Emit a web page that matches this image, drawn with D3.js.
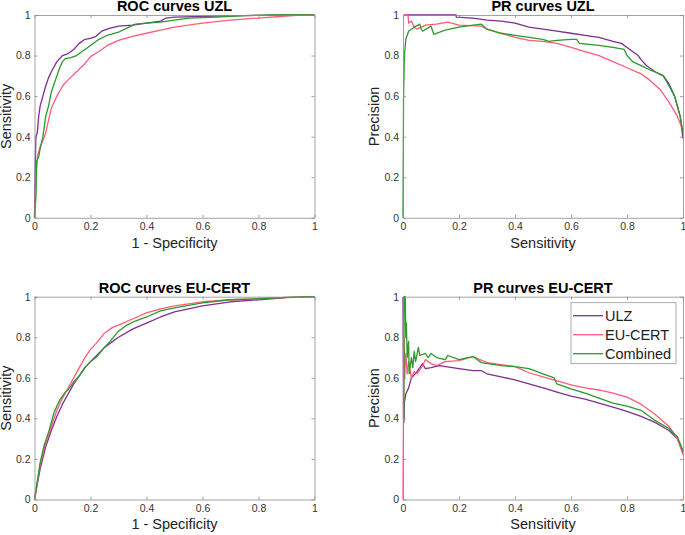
<!DOCTYPE html>
<html>
<head>
<meta charset="utf-8">
<script src="https://cdn.jsdelivr.net/npm/d3@7"></script>
<style>
  html, body { margin: 0; padding: 0; background: #fff; overflow: hidden; }
  svg { display: block; }
  text { font-family: "Liberation Sans", Arial, Helvetica, sans-serif; }
</style>
</head>
<body>
<svg width="685" height="535"></svg>
<script>
// series names + colours
const seriesNames = ['ULZ', 'EU-CERT', 'Combined'];
const colors = ['#7E2F8E', '#FF5C77', '#2A9A2A'];
const tickValues = [0, 0.2, 0.4, 0.6, 0.8, 1];

// ROC curves UZL  ([1-specificity, sensitivity])
const rocUzlUlz = [[0,0],[0.003,0.28],[0.005,0.4],[0.01,0.42],[0.015,0.5],[0.02,0.55],[0.03,0.6],[0.04,0.65],[0.05,0.69],[0.06,0.72],[0.08,0.77],[0.1,0.8],[0.12,0.81],[0.14,0.83],[0.16,0.86],[0.18,0.88],[0.2,0.885],[0.22,0.895],[0.24,0.92],[0.27,0.935],[0.3,0.945],[0.35,0.95],[0.4,0.96],[0.45,0.97],[0.47,0.985],[0.5,0.99],[0.6,0.993],[0.7,0.996],[0.8,0.998],[0.9,1],[1,1]];
const rocUzlEu = [[0,0],[0.005,0.2],[0.01,0.3],[0.02,0.35],[0.03,0.38],[0.04,0.42],[0.05,0.48],[0.06,0.54],[0.08,0.6],[0.1,0.65],[0.12,0.68],[0.15,0.72],[0.18,0.76],[0.2,0.795],[0.23,0.82],[0.26,0.85],[0.3,0.875],[0.35,0.895],[0.4,0.91],[0.45,0.925],[0.5,0.94],[0.6,0.96],[0.7,0.975],[0.8,0.985],[0.9,0.995],[0.95,1],[1,1]];
const rocUzlComb = [[0,0],[0.005,0.1],[0.008,0.28],[0.015,0.3],[0.02,0.34],[0.03,0.4],[0.04,0.5],[0.05,0.55],[0.06,0.62],[0.07,0.66],[0.08,0.7],[0.09,0.74],[0.1,0.77],[0.11,0.785],[0.13,0.79],[0.15,0.8],[0.17,0.82],[0.2,0.85],[0.23,0.88],[0.26,0.9],[0.3,0.915],[0.33,0.935],[0.36,0.955],[0.4,0.96],[0.45,0.965],[0.5,0.975],[0.55,0.985],[0.65,0.99],[0.75,0.997],[0.85,1],[1,1]];

// PR curves UZL  ([sensitivity, precision])
const prUzlUlz = [[0.003,1],[0.19,1],[0.19,0.99],[0.25,0.985],[0.3,0.975],[0.35,0.97],[0.4,0.96],[0.45,0.94],[0.5,0.93],[0.55,0.92],[0.6,0.91],[0.65,0.9],[0.7,0.89],[0.75,0.87],[0.78,0.86],[0.8,0.84],[0.82,0.82],[0.84,0.8],[0.85,0.78],[0.87,0.75],[0.9,0.72],[0.93,0.7],[0.95,0.66],[0.97,0.6],[0.98,0.55],[0.99,0.5],[1,0.39]];
const prUzlEu = [[0.005,1],[0.018,1],[0.02,0.96],[0.03,0.97],[0.04,0.94],[0.05,0.93],[0.08,0.95],[0.12,0.955],[0.16,0.965],[0.2,0.95],[0.28,0.945],[0.3,0.93],[0.35,0.91],[0.4,0.89],[0.45,0.875],[0.5,0.87],[0.55,0.86],[0.6,0.84],[0.65,0.82],[0.7,0.8],[0.75,0.77],[0.8,0.74],[0.85,0.71],[0.88,0.68],[0.92,0.63],[0.95,0.57],[0.98,0.5],[1,0.43]];
const prUzlComb = [[0,0],[0.002,0.6],[0.005,0.8],[0.01,0.88],[0.02,0.92],[0.04,0.94],[0.06,0.955],[0.065,0.93],[0.07,0.92],[0.1,0.945],[0.11,0.905],[0.15,0.925],[0.2,0.94],[0.25,0.95],[0.28,0.955],[0.3,0.93],[0.35,0.91],[0.4,0.9],[0.45,0.89],[0.5,0.88],[0.52,0.87],[0.55,0.875],[0.6,0.88],[0.62,0.88],[0.63,0.86],[0.7,0.85],[0.75,0.84],[0.79,0.83],[0.8,0.8],[0.82,0.77],[0.85,0.75],[0.88,0.73],[0.9,0.72],[0.93,0.7],[0.95,0.65],[0.97,0.6],[0.98,0.55],[0.99,0.5],[1,0.42]];

// ROC curves EU-CERT
const rocEuUlz = [[0,0],[0.02,0.15],[0.04,0.26],[0.06,0.34],[0.08,0.41],[0.1,0.47],[0.12,0.52],[0.14,0.57],[0.16,0.61],[0.18,0.65],[0.2,0.68],[0.25,0.75],[0.3,0.8],[0.35,0.84],[0.4,0.87],[0.45,0.9],[0.5,0.925],[0.6,0.955],[0.7,0.975],[0.8,0.985],[0.9,0.995],[1,1]];
const rocEuEu = [[0,0],[0.02,0.17],[0.04,0.28],[0.06,0.36],[0.08,0.44],[0.1,0.5],[0.12,0.55],[0.14,0.6],[0.16,0.65],[0.18,0.7],[0.2,0.74],[0.22,0.77],[0.25,0.82],[0.28,0.85],[0.3,0.86],[0.35,0.89],[0.4,0.92],[0.45,0.94],[0.5,0.955],[0.6,0.975],[0.7,0.985],[0.8,0.99],[0.9,0.997],[1,1]];
const rocEuComb = [[0,0],[0.02,0.18],[0.035,0.27],[0.05,0.33],[0.07,0.43],[0.09,0.49],[0.11,0.53],[0.12,0.54],[0.14,0.58],[0.16,0.61],[0.18,0.65],[0.2,0.68],[0.22,0.7],[0.25,0.75],[0.27,0.78],[0.3,0.83],[0.33,0.86],[0.36,0.88],[0.4,0.9],[0.45,0.93],[0.5,0.945],[0.6,0.97],[0.7,0.985],[0.8,0.99],[0.9,0.997],[1,1]];

// PR curves EU-CERT
const prEuUlz = [[0,1],[0.002,0.4],[0.003,0.38],[0.005,0.48],[0.01,0.52],[0.02,0.55],[0.03,0.6],[0.05,0.63],[0.07,0.67],[0.08,0.645],[0.1,0.65],[0.13,0.66],[0.2,0.645],[0.25,0.635],[0.28,0.635],[0.3,0.62],[0.35,0.605],[0.4,0.59],[0.45,0.57],[0.5,0.55],[0.55,0.53],[0.6,0.51],[0.65,0.495],[0.7,0.475],[0.75,0.455],[0.8,0.435],[0.85,0.41],[0.9,0.38],[0.95,0.34],[0.98,0.3],[1,0.23]];
const prEuEu = [[0,0],[0.002,0.5],[0.004,0.8],[0.006,0.6],[0.01,0.72],[0.015,0.62],[0.02,0.68],[0.03,0.6],[0.04,0.63],[0.05,0.62],[0.07,0.66],[0.08,0.69],[0.1,0.67],[0.12,0.66],[0.15,0.68],[0.2,0.685],[0.25,0.705],[0.3,0.675],[0.35,0.665],[0.4,0.655],[0.45,0.625],[0.5,0.605],[0.55,0.585],[0.6,0.565],[0.65,0.55],[0.7,0.54],[0.75,0.525],[0.8,0.505],[0.85,0.47],[0.9,0.42],[0.95,0.36],[0.98,0.3],[1,0.22]];
const prEuComb = [[0.003,0.4],[0.004,1],[0.008,1],[0.01,0.8],[0.012,0.87],[0.015,0.7],[0.02,0.78],[0.022,0.62],[0.03,0.7],[0.035,0.65],[0.04,0.73],[0.045,0.68],[0.055,0.75],[0.06,0.71],[0.08,0.72],[0.09,0.7],[0.1,0.72],[0.12,0.7],[0.15,0.69],[0.16,0.71],[0.2,0.69],[0.25,0.705],[0.28,0.675],[0.35,0.66],[0.4,0.655],[0.45,0.645],[0.5,0.62],[0.54,0.6],[0.55,0.57],[0.6,0.545],[0.65,0.525],[0.7,0.5],[0.75,0.475],[0.8,0.46],[0.85,0.44],[0.9,0.39],[0.95,0.35],[0.98,0.31],[1,0.24]];

const panels = [
  { title: 'ROC curves UZL', xLabel: '1 - Specificity', yLabel: 'Sensitivity',
    left: 34.5, top: 15, series: [rocUzlUlz, rocUzlEu, rocUzlComb] },
  { title: 'PR curves UZL', xLabel: 'Sensitivity', yLabel: 'Precision',
    left: 403, top: 15, series: [prUzlUlz, prUzlEu, prUzlComb] },
  { title: 'ROC curves EU-CERT', xLabel: '1 - Specificity', yLabel: 'Sensitivity',
    left: 34.5, top: 296.7, series: [rocEuUlz, rocEuEu, rocEuComb] },
  { title: 'PR curves EU-CERT', xLabel: 'Sensitivity', yLabel: 'Precision',
    left: 403, top: 296.7, series: [prEuUlz, prEuEu, prEuComb], legend: true }
];

const innerWidth = 280;
const innerHeight = 202.8;
const axisColor = '#8a8a8a';
const tickFormat = d => d === 0 || d === 1 ? String(d) : d3.format('.1f')(d);

const svg = d3.select('svg');

panels.forEach(p => {
  const g = svg.append('g')
      .attr('transform', `translate(${p.left},${p.top})`);

  const xScale = d3.scaleLinear().domain([0, 1]).range([0, innerWidth]);
  const yScale = d3.scaleLinear().domain([0, 1]).range([innerHeight, 0]);

  const line = d3.line()
    .x(d => xScale(d[0]))
    .y(d => yScale(d[1]));

  p.series.forEach((s, i) => {
    g.append('path')
      .datum(s)
      .attr('fill', 'none')
      .attr('stroke', colors[i])
      .attr('stroke-width', 1.3)
      .attr('stroke-linejoin', 'round')
      .attr('d', line);
  });

  // MATLAB-like box, inward ticks on all four sides
  const xAxisB = d3.axisBottom(xScale).tickValues(tickValues).tickSizeInner(-3).tickSizeOuter(0).tickPadding(5).tickFormat(tickFormat);
  const xAxisT = d3.axisTop(xScale).tickValues(tickValues).tickSizeInner(-3).tickSizeOuter(0);
  const yAxisL = d3.axisLeft(yScale).tickValues(tickValues).tickSizeInner(-3).tickSizeOuter(0).tickPadding(4).tickFormat(tickFormat);
  const yAxisR = d3.axisRight(yScale).tickValues(tickValues).tickSizeInner(-3).tickSizeOuter(0);

  const bottomG = g.append('g').attr('transform', `translate(0,${innerHeight})`).call(xAxisB);
  const topG = g.append('g').call(xAxisT);
  const leftG = g.append('g').call(yAxisL);
  const rightG = g.append('g').attr('transform', `translate(${innerWidth},0)`).call(yAxisR);
  // no labels on the top / right copies
  topG.selectAll('text').remove();
  rightG.selectAll('text').remove();

  [bottomG, topG, leftG, rightG].forEach(a => {
    a.selectAll('path, line').attr('stroke', axisColor).attr('stroke-width', 0.8);
    a.selectAll('text')
      .attr('fill', '#333')
      .style('font-size', '10.5px')
      .style('font-family', '"Liberation Sans", Arial, sans-serif');
  });

  g.append('text')
    .attr('x', innerWidth / 2)
    .attr('y', -4)
    .attr('text-anchor', 'middle')
    .style('font-size', '14.5px')
    .style('font-weight', 'bold')
    .attr('fill', '#000')
    .text(p.title);

  g.append('text')
    .attr('x', innerWidth / 2)
    .attr('y', innerHeight + 30)
    .attr('text-anchor', 'middle')
    .style('font-size', '14.5px')
    .attr('fill', '#222')
    .text(p.xLabel);

  g.append('text')
    .attr('transform', 'rotate(-90)')
    .attr('x', -innerHeight / 2)
    .attr('y', -24)
    .attr('text-anchor', 'middle')
    .style('font-size', '14.5px')
    .attr('fill', '#222')
    .text(p.yLabel);

  if (p.legend) {
    const lg = g.append('g').attr('transform', `translate(${innerWidth - 112},6)`);
    lg.append('rect')
      .attr('width', 105).attr('height', 61)
      .attr('fill', '#fff')
      .attr('stroke', '#999')
      .attr('stroke-width', 0.8);
    seriesNames.forEach((name, i) => {
      const cy = 13 + i * 19;
      lg.append('line')
        .attr('x1', 2).attr('x2', 32)
        .attr('y1', cy).attr('y2', cy)
        .attr('stroke', colors[i]).attr('stroke-width', 1.3);
      lg.append('text')
        .attr('x', 34).attr('y', cy + 5)
        .style('font-size', '14.5px')
        .attr('fill', '#222')
        .text(name);
    });
  }
});
</script>
</body>
</html>
